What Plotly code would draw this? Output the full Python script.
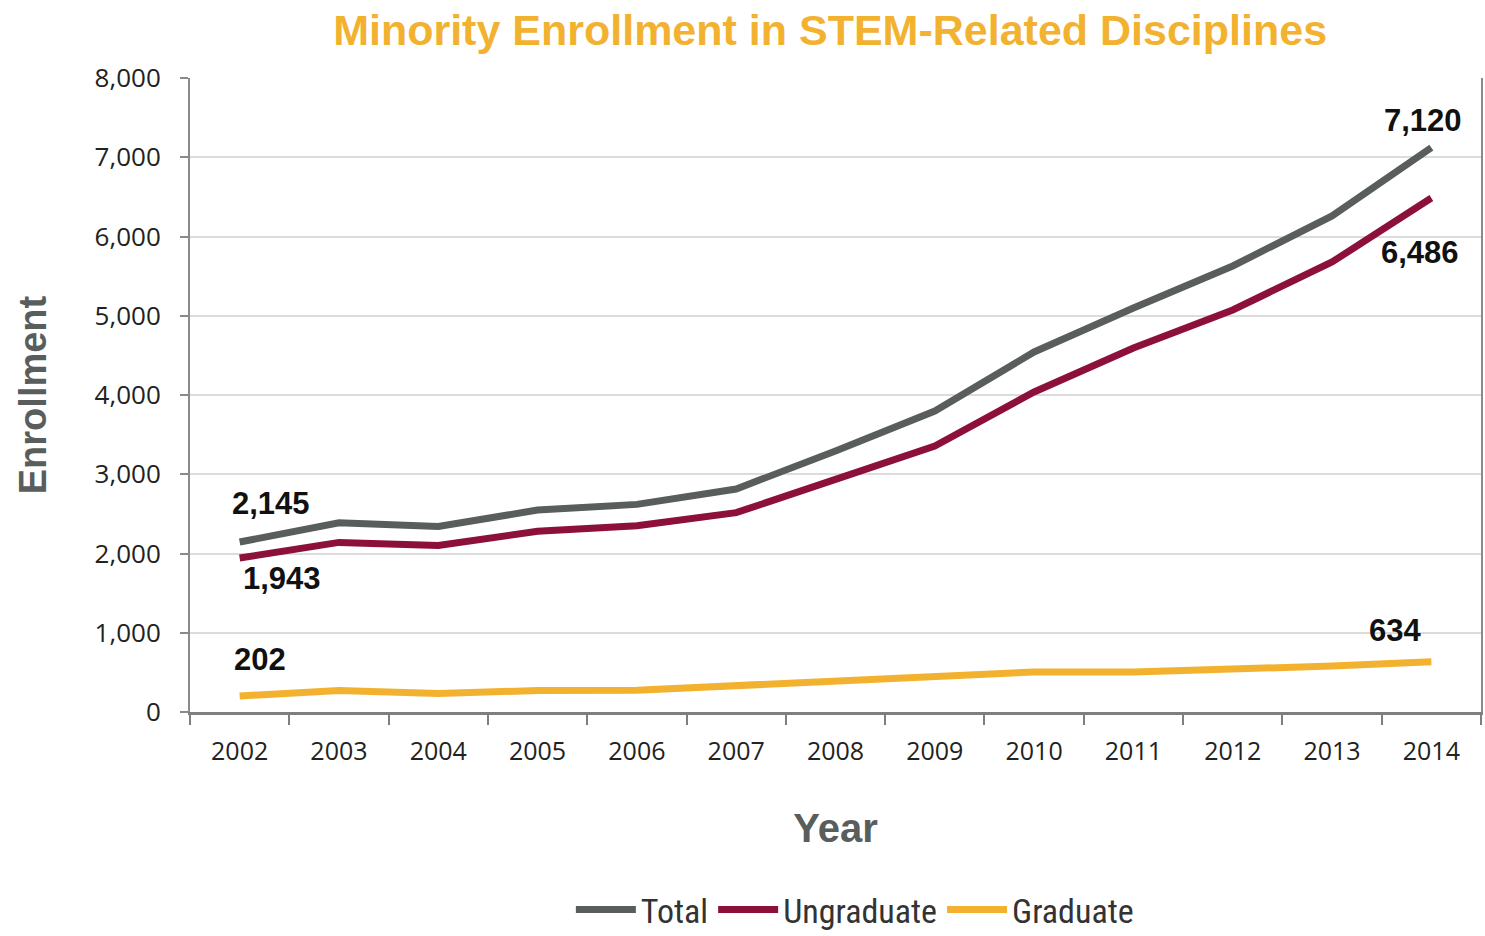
import plotly.graph_objects as go

# Minority enrollment in STEM-related disciplines, 2002-2014
years = ["2002", "2003", "2004", "2005", "2006", "2007", "2008",
         "2009", "2010", "2011", "2012", "2013", "2014"]
total = [2145, 2388, 2340, 2549, 2620, 2814, 3293, 3798, 4543, 5098, 5628, 6259, 7120]
undergrad = [1943, 2140, 2100, 2280, 2350, 2515, 2935, 3356, 4038, 4593, 5073, 5678, 6486]
graduate = [202, 270, 235, 270, 275, 335, 400, 440, 505, 505, 540, 580, 634]

y_ticks = [0, 1000, 2000, 3000, 4000, 5000, 6000, 7000, 8000]
y_tick_text = ["0", "1,000", "2,000", "3,000", "4,000", "5,000", "6,000", "7,000", "8,000"]

GRAY = "#595D5C"
MAROON = "#8C0F3C"
GOLD = "#F2B230"

fig = go.Figure()
fig.add_trace(go.Scatter(x=years, y=total, name="Total", mode="lines",
                         line=dict(color=GRAY, width=7)))
fig.add_trace(go.Scatter(x=years, y=undergrad, name="Ungraduate", mode="lines",
                         line=dict(color=MAROON, width=7)))
fig.add_trace(go.Scatter(x=years, y=graduate, name="Graduate", mode="lines",
                         line=dict(color=GOLD, width=7)))

# value labels on the first and last points of each series
# (category axes position annotations by category index)
label_font = dict(family="Liberation Sans, Arial, sans-serif", size=31, color="#111111")
last = len(years) - 1
endpoints = [
    (0, total, 31, 39),
    (0, undergrad, 42, -20),
    (0, graduate, 20, 36),
    (last, total, -8, 27),
    (last, undergrad, -11, -55),
    (last, graduate, -36, 31),
]
for idx, series, dx, dy in endpoints:
    fig.add_annotation(x=idx, y=series[idx], xref="x", yref="y",
                       text=f"<b>{series[idx]:,}</b>", showarrow=False,
                       xshift=dx, yshift=dy, font=label_font)

fig.update_layout(
    width=1485, height=936,
    paper_bgcolor="white", plot_bgcolor="white",
    margin=dict(l=190, r=4, t=78, b=224, autoexpand=False),
    title=dict(text="<b>Minority Enrollment in STEM-Related Disciplines</b>",
               font=dict(family="Liberation Sans, Arial, sans-serif", size=43, color=GOLD),
               x=0.559, xanchor="center", y=0.968, yanchor="middle"),
    showlegend=True,
    legend=dict(orientation="h", x=0.515, xanchor="center",
                yref="container", y=0.028, yanchor="middle",
                font=dict(family="Liberation Sans Narrow, Roboto Condensed, Arial Narrow, sans-serif",
                          size=34, color="#333333"),
                itemwidth=60, traceorder="normal"),
)

fig.update_xaxes(
    type="category", range=[-0.5, 12.5], automargin=False,
    showgrid=False, showline=True, linecolor="#7F7F7F", linewidth=3,
    ticks="outside", tickson="boundaries", ticklen=10, tickwidth=2, tickcolor="#7F7F7F",
    ticklabelstandoff=15,
    tickfont=dict(family="Open Sans, sans-serif", size=25, color="#222222"),
    title=dict(text="<b>Year</b>", standoff=48,
               font=dict(family="Liberation Sans, Arial, sans-serif", size=40, color=GRAY)),
)
fig.update_yaxes(
    range=[0, 8000], tickvals=y_ticks, ticktext=y_tick_text, automargin=False,
    showgrid=True, gridcolor="#DCDCDC", gridwidth=2,
    showline=True, linecolor="#8A8A8A", linewidth=2, mirror=True,
    ticks="outside", ticklen=8, tickwidth=2, tickcolor="#8A8A8A",
    ticklabelstandoff=14,
    tickfont=dict(family="Open Sans, sans-serif", size=26, color="#222222"),
    zeroline=False,
    title=dict(text="<b>Enrollment</b>", standoff=36,
               font=dict(family="Liberation Sans, Arial, sans-serif", size=38, color=GRAY)),
)

fig.write_html("out.html")
